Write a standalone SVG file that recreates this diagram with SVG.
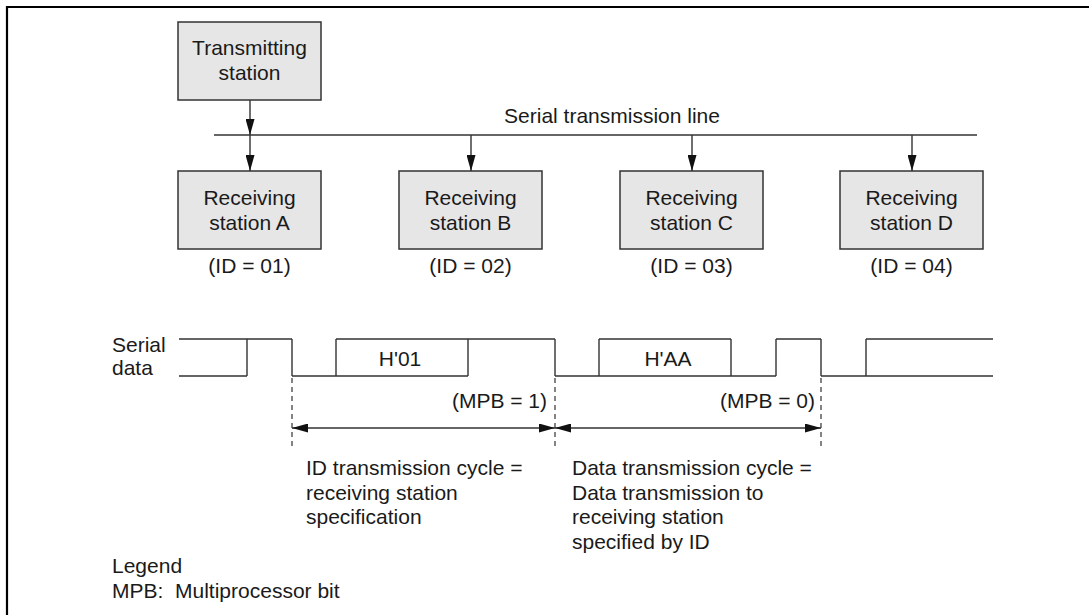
<svg xmlns="http://www.w3.org/2000/svg" width="1089" height="615" viewBox="0 0 1089 615">
<style>
text{font-family:"Liberation Sans",Arial,sans-serif;font-size:21px;fill:#1a1a1a}
.c{text-anchor:middle}
.e{text-anchor:end}
.box{fill:#e6e6e6;stroke:#333;stroke-width:1.5}
.ln{stroke:#333;stroke-width:1.4;fill:none}
.dash{stroke:#333;stroke-width:1.2;stroke-dasharray:5 4;fill:none}
</style>
<defs>
<marker id="ah" viewBox="0 0 16 9" refX="16" refY="4.5" markerWidth="16" markerHeight="9" orient="auto-start-reverse" markerUnits="userSpaceOnUse">
<path d="M0,0 L16,4.5 L0,9 z" fill="#111"/>
</marker>
</defs>
<rect width="1089" height="615" fill="#fff"/>
<path d="M7,616 V7 H1090" fill="none" stroke="#000" stroke-width="2.2"/>

<g id="tx">
<rect class="box" x="178" y="22" width="143" height="78"/>
<text class="c" x="249.5" y="55">Transmitting</text>
<text class="c" x="249.5" y="80">station</text>
</g>

<g id="bus">
<path class="ln" d="M214,135 H977"/>
<text class="c" x="612" y="123">Serial transmission line</text>
</g>

<g id="rxA">
<rect class="box" x="178" y="171" width="143" height="78"/>
<text class="c" x="249.5" y="205">Receiving</text>
<text class="c" x="249.5" y="230">station A</text>
<text class="c" x="249.5" y="273">(ID = 01)</text>
</g>
<g id="rxB">
<rect class="box" x="399" y="171" width="143" height="78"/>
<text class="c" x="470.5" y="205">Receiving</text>
<text class="c" x="470.5" y="230">station B</text>
<text class="c" x="470.5" y="273">(ID = 02)</text>
</g>
<g id="rxC">
<rect class="box" x="620" y="171" width="143" height="78"/>
<text class="c" x="691.5" y="205">Receiving</text>
<text class="c" x="691.5" y="230">station C</text>
<text class="c" x="691.5" y="273">(ID = 03)</text>
</g>
<g id="rxD">
<rect class="box" x="840" y="171" width="143" height="78"/>
<text class="c" x="911.5" y="205">Receiving</text>
<text class="c" x="911.5" y="230">station D</text>
<text class="c" x="911.5" y="273">(ID = 04)</text>
</g>

<g id="connectors">
<path class="ln" d="M250,100 V135" marker-end="url(#ah)"/>
<path class="ln" d="M250,135 V171" marker-end="url(#ah)"/>
<path class="ln" d="M471,135 V171" marker-end="url(#ah)"/>
<path class="ln" d="M692,135 V171" marker-end="url(#ah)"/>
<path class="ln" d="M912,135 V171" marker-end="url(#ah)"/>
</g>

<g id="waveform">
<text x="112" y="352">Serial</text>
<text x="112" y="375">data</text>
<path class="ln" d="M179,339 H292 M336,339 H555 M599,339 H731 M776,339 H821 M866,339 H993"/>
<path class="ln" d="M179,376 H247 M292,376 H468 M555,376 H776 M821,376 H993"/>
<path class="ln" d="M247,339 V376 M292,339 V376 M336,339 V376 M468,339 V376 M555,339 V376 M599,339 V376 M731,339 V376 M776,339 V376 M821,339 V376 M866,339 V376"/>
<text class="c" x="400" y="366">H'01</text>
<text class="c" x="668" y="366">H'AA</text>
<text class="e" x="547" y="408">(MPB = 1)</text>
<text class="e" x="815" y="408">(MPB = 0)</text>
</g>

<g id="cycles">
<path class="dash" d="M292,378 V446 M555,378 V446 M821,378 V446"/>
<path class="ln" d="M292,428 H555" marker-start="url(#ah)" marker-end="url(#ah)"/>
<path class="ln" d="M555,428 H821" marker-start="url(#ah)" marker-end="url(#ah)"/>
<text x="306" y="475">ID transmission cycle =</text>
<text x="306" y="499.5">receiving station</text>
<text x="306" y="524">specification</text>
<text x="572" y="475">Data transmission cycle =</text>
<text x="572" y="499.5">Data transmission to</text>
<text x="572" y="524">receiving station</text>
<text x="572" y="548.5">specified by ID</text>
</g>

<g id="legend">
<text x="112" y="573">Legend</text>
<text x="112" y="597.5" xml:space="preserve">MPB:  Multiprocessor bit</text>
</g>
</svg>
